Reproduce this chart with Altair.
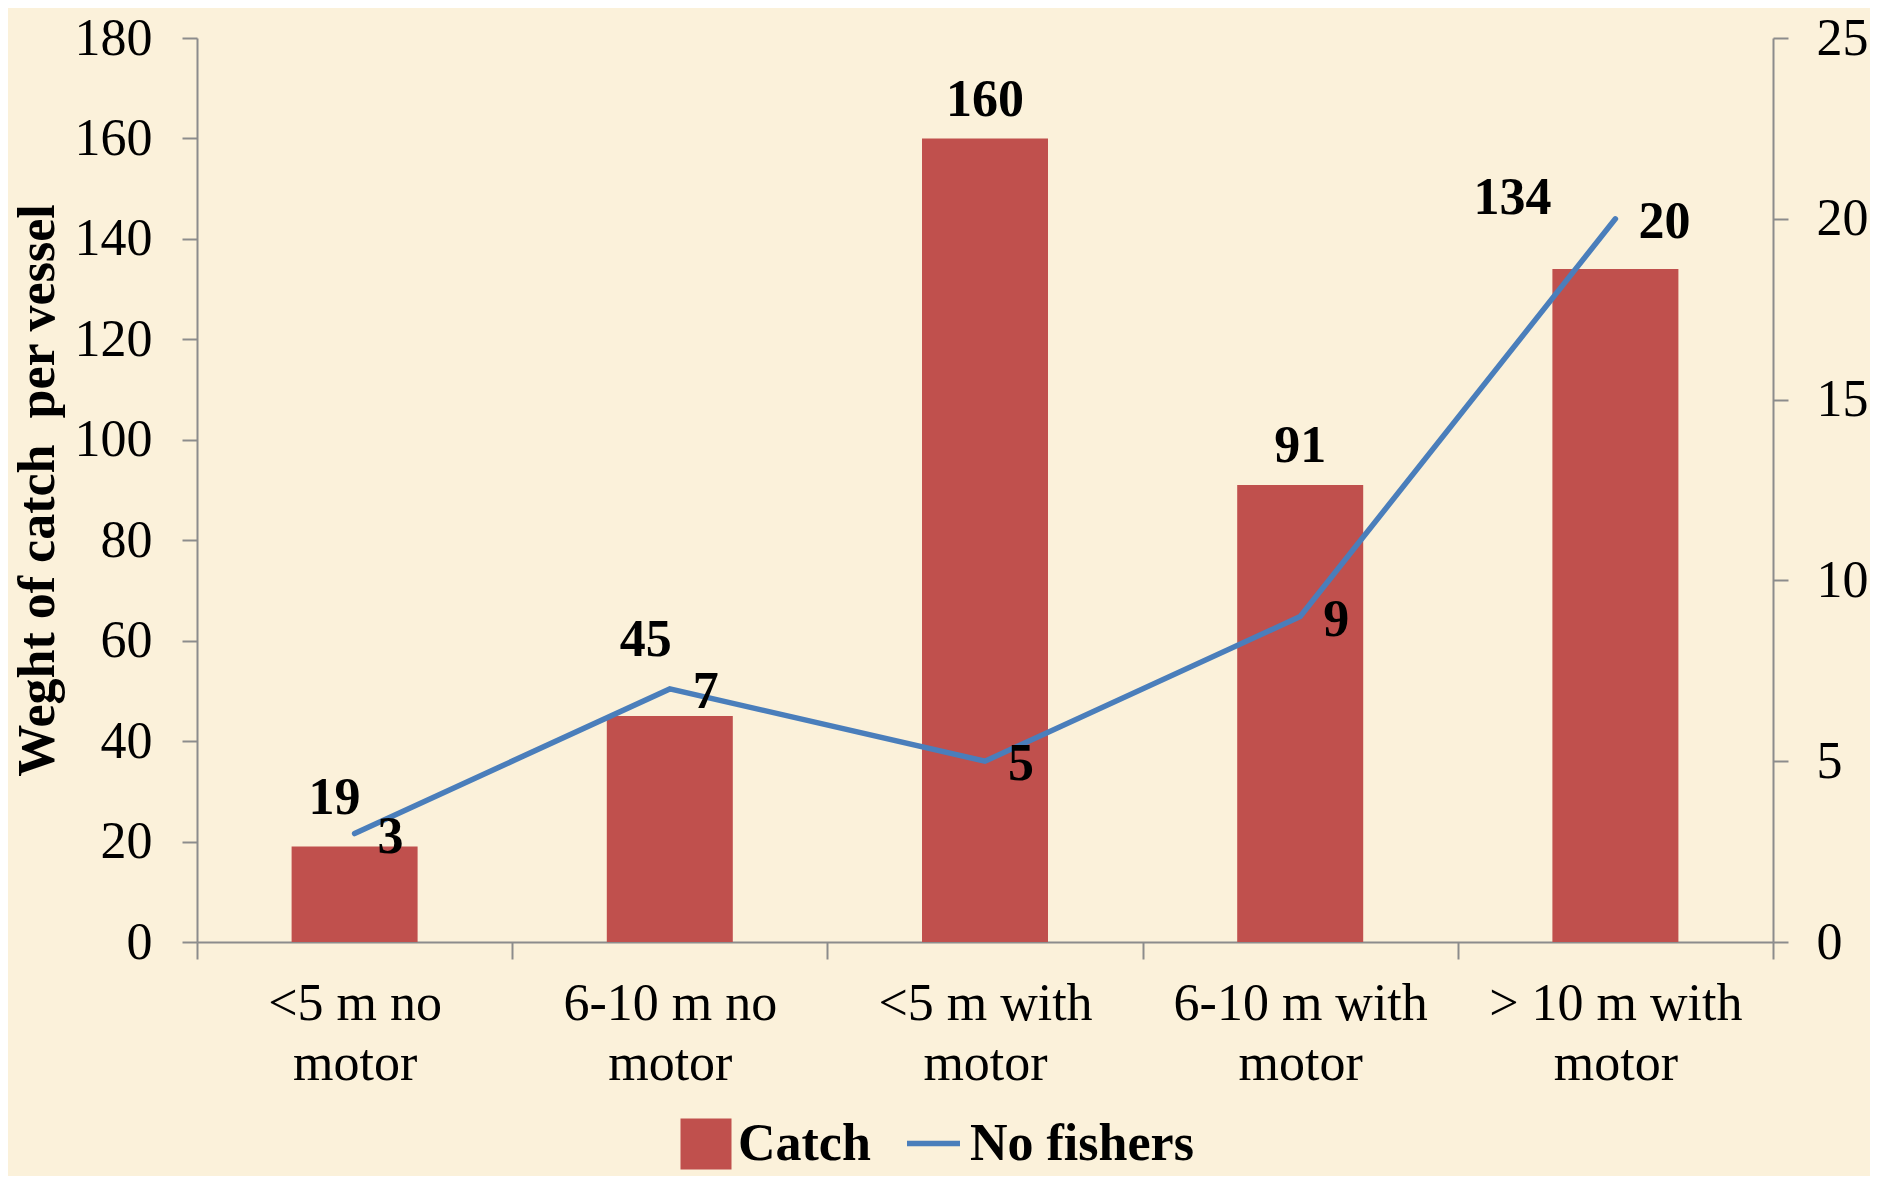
import altair as alt
import pandas as pd

# ---- data ----
categories = ["<5 m no motor", "6-10 m no motor", "<5 m with motor",
              "6-10 m with motor", "> 10 m with motor"]
catch_values = [19, 45, 160, 91, 134]
fisher_values = [3, 7, 5, 9, 20]
left_ticks = [0, 20, 40, 60, 80, 100, 120, 140, 160, 180]
right_ticks = [0, 5, 10, 15, 20, 25]

df = pd.DataFrame({
    "category": categories,
    "Catch": catch_values,
    "No fishers": fisher_values,
})

FONT = "Liberation Serif"
BAR_COLOR = "#C0504D"
LINE_COLOR = "#4A7EBB"
AXIS_GRAY = "#8C8C8C"
W, H = 1576, 904

x_enc = alt.X(
    "category:N", sort=categories,
    scale=alt.Scale(paddingInner=0, paddingOuter=0),
    axis=alt.Axis(
        title=None, labelAngle=0, labelFont=FONT, labelFontSize=52,
        labelColor="black", labelLimit=500, labelPadding=19,
        labelLineHeight=60, tickBand="extent", tickSize=17,
        labelExpr="datum.label ? [replace(datum.label, ' motor', ''), 'motor'] : ''",
    ),
)

y_left = alt.Y(
    "Catch:Q",
    scale=alt.Scale(domain=[0, 180], nice=False),
    axis=alt.Axis(
        values=left_ticks, title="Weght of catch\u00a0 per vessel",
        titleFont=FONT, titleFontSize=52, titleFontWeight="bold",
        titleColor="black", titleAngle=270, titleX=-160, titleY=H / 2,
        titleAlign="center", titleBaseline="middle",
        labelFont=FONT, labelFontSize=52, labelColor="black",
        labelPadding=30, tickSize=15,
    ),
)

y_right = alt.Y(
    "No fishers:Q",
    scale=alt.Scale(domain=[0, 25], nice=False),
    axis=alt.Axis(
        orient="right", values=right_ticks, title=None,
        labelFont=FONT, labelFontSize=52, labelColor="black",
        labelPadding=28, tickSize=15,
    ),
)

base = alt.Chart(df)

bars = base.transform_calculate(series="'Catch'").mark_bar(size=126).encode(
    x=x_enc,
    y=y_left,
    fill=alt.Fill(
        "series:N",
        scale=alt.Scale(domain=["Catch"], range=[BAR_COLOR]),
        legend=alt.Legend(
            title=None, orient="none", legendX=483, legendY=1080,
            symbolType="square", symbolSize=2601, symbolStrokeWidth=0,
            labelFont=FONT, labelFontSize=52, labelFontWeight="bold",
            labelColor="black", labelOffset=6, padding=0, labelLimit=400,
        ),
    ),
)

# bar value labels (Excel nudged some of them around the line)
bar_label_offsets = {
    categories[0]: (-20, -33),
    categories[1]: (-24, -60),
    categories[2]: (0, -22),
    categories[3]: (0, -23),
    categories[4]: (-103, -55),
}
bar_texts = []
for cat, (ddx, ddy) in bar_label_offsets.items():
    bar_texts.append(
        base.transform_filter(alt.datum.category == cat)
        .mark_text(font=FONT, fontSize=52, fontWeight="bold", color="black",
                   baseline="alphabetic", align="center", dx=ddx, dy=ddy)
        .encode(x=x_enc, y=y_left, text=alt.Text("Catch:Q"))
    )

bar_layer = alt.layer(bars, *bar_texts)

line = base.transform_calculate(series2="'No fishers'").mark_line(
    strokeWidth=5.5, strokeCap="round", strokeJoin="miter"
).encode(
    x=x_enc,
    y=y_right,
    stroke=alt.Stroke(
        "series2:N",
        scale=alt.Scale(domain=["No fishers"], range=[LINE_COLOR]),
        legend=alt.Legend(
            title=None, orient="none", legendX=707, legendY=1076,
            symbolType="stroke", symbolSize=2809, symbolStrokeWidth=5.5,
            labelFont=FONT, labelFontSize=52, labelFontWeight="bold",
            labelColor="black", labelOffset=7, padding=0, labelLimit=400,
        ),
    ),
)

line_text = base.mark_text(
    font=FONT, fontSize=52, fontWeight="bold", color="black",
    align="left", baseline="alphabetic", dx=23, dy=19,
).encode(x=x_enc, y=y_right, text=alt.Text("No fishers:Q"))

line_layer = alt.layer(line, line_text)

chart = alt.layer(bar_layer, line_layer).resolve_scale(
    y="independent"
).properties(
    width=W, height=H,
    autosize=alt.AutoSizeParams(type="none"),
    padding={"left": 189, "top": 30, "right": 97, "bottom": 234},
    background="#FBF1DA",
).configure_view(
    stroke=None
).configure_axis(
    grid=False, domainColor=AXIS_GRAY, tickColor=AXIS_GRAY,
    domainWidth=2, tickWidth=2,
)

chart.save("out.html", embed_options={"renderer": "svg", "actions": False})
